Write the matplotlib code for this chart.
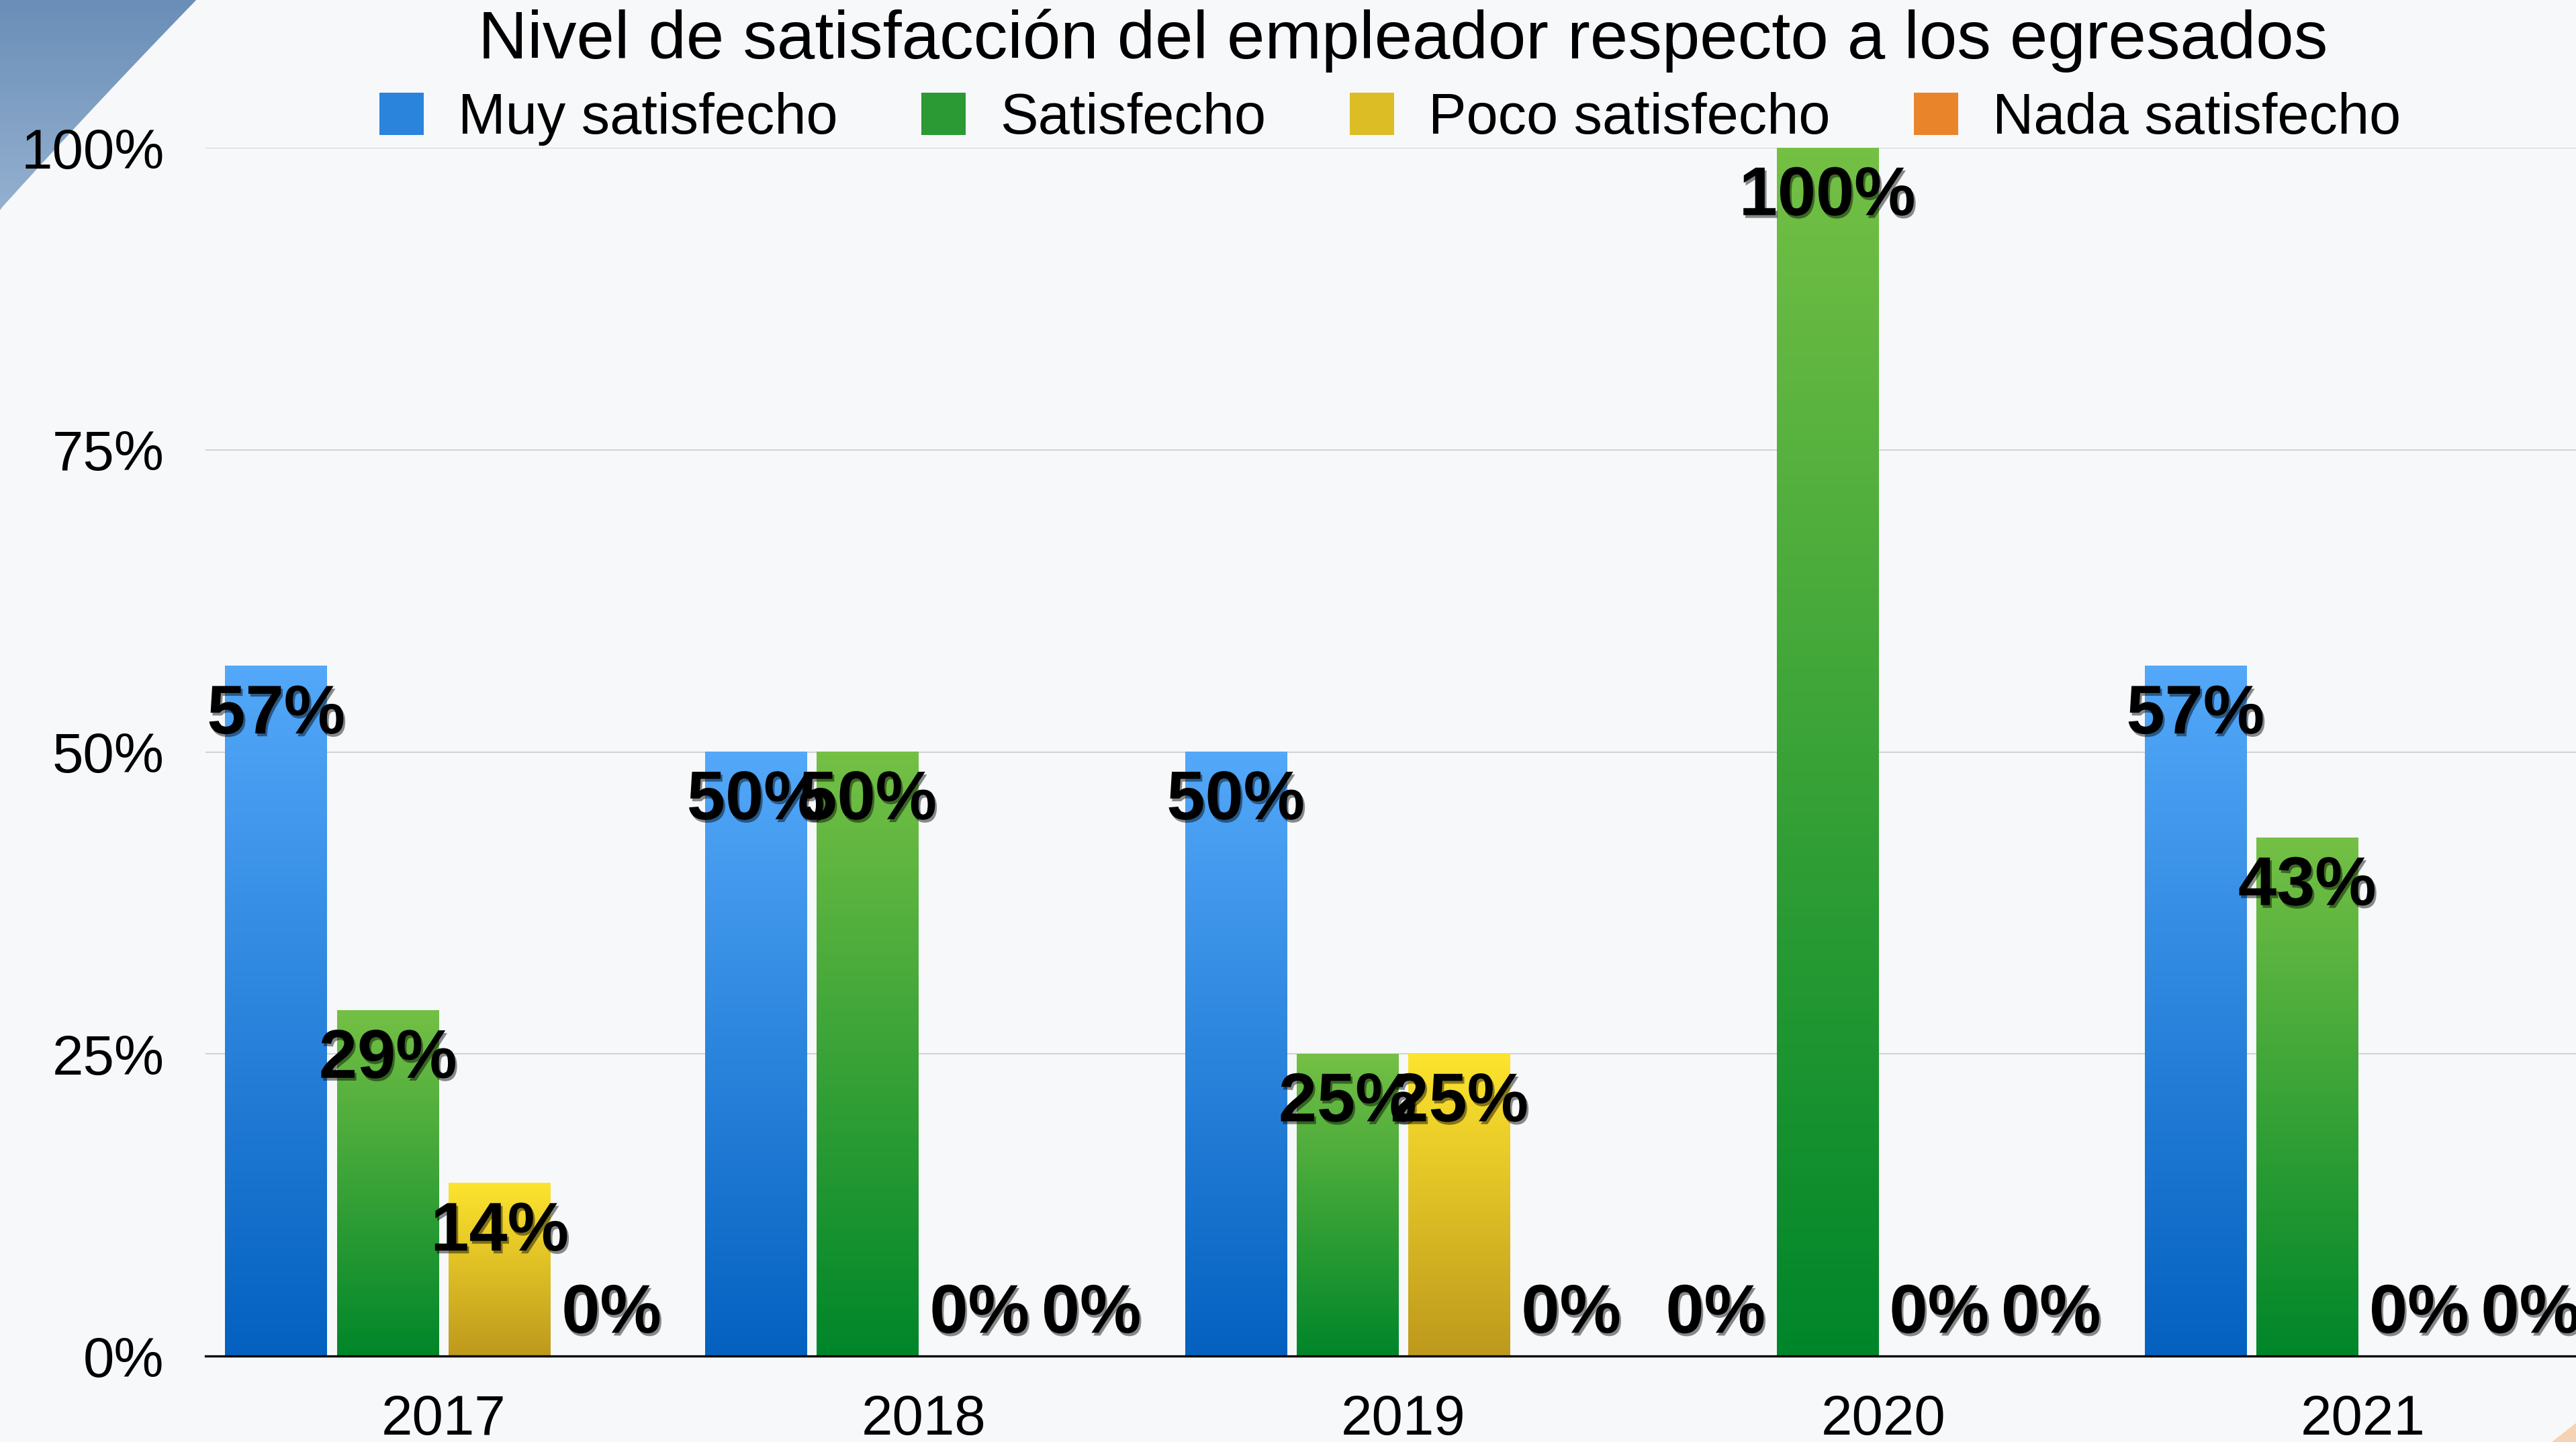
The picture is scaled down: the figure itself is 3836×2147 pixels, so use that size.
import matplotlib
matplotlib.use("Agg")
import matplotlib.pyplot as plt
import matplotlib.patheffects as pe
from matplotlib.colors import LinearSegmentedColormap
from matplotlib.patches import Patch, Polygon
import numpy as np

plt.rcParams['font.family'] = ['Liberation Sans', 'DejaVu Sans']

years = ["2017", "2018", "2019", "2020", "2021"]
series_names = ["Muy satisfecho", "Satisfecho", "Poco satisfecho", "Nada satisfecho"]
muy_satisfecho = [57.1, 50.0, 50.0, 0.0, 57.1]
satisfecho = [28.6, 50.0, 25.0, 100.0, 42.9]
poco_satisfecho = [14.3, 0.0, 25.0, 0.0, 0.0]
nada_satisfecho = [0.0, 0.0, 0.0, 0.0, 0.0]
y_ticks = [0, 25, 50, 75, 100]

# (top colour, bottom colour) for each series gradient
gradients = [("#53a8f9", "#0461c0"),
             ("#74c045", "#00862a"),
             ("#fde42e", "#be991d"),
             ("#f5a03a", "#e0680a")]


def gradient_bar(ax, rect, top, bottom):
    h = rect.get_height()
    if h <= 0:
        return
    x0 = rect.get_x()
    w = rect.get_width()
    cmap = LinearSegmentedColormap.from_list("g", [bottom, top])
    grad = np.linspace(0, 1, 256).reshape(-1, 1)
    ax.imshow(grad, extent=(x0, x0 + w, 0, h), origin="lower", aspect="auto",
              cmap=cmap, zorder=2, interpolation="bilinear")


def draw_background(fig):
    bg = fig.add_axes([0, 0, 1, 1], zorder=-1)
    bg.axis("off")
    # blue swoosh top-left (smooth edge through a few read points)
    ey = np.array([0, 50, 100, 200, 313])
    ex = np.array([290, 247, 197, 100, 0])
    coef = np.polyfit(ey, ex, 2)
    yy = np.linspace(0, 313, 60)
    xx = np.clip(np.polyval(coef, yy), 0, None)
    pts = [(0, 0)] + list(zip(xx, yy))
    poly = Polygon(pts, closed=True, facecolor="none", edgecolor="none")
    bg.add_patch(poly)
    cmap = LinearSegmentedColormap.from_list("s", ["#6a8eb8", "#94b0cf"])
    im = bg.imshow(np.linspace(0, 1, 64).reshape(-1, 1), extent=(0, 300, 313, 0),
                   cmap=cmap, aspect="auto", interpolation="bilinear")
    im.set_clip_path(poly)
    # peach corner bottom-right
    bg.add_patch(Polygon([(3800, 2147), (3837, 2147), (3837, 2118)], closed=True,
                         facecolor="#f4d2b3", edgecolor="none"))
    bg.set_xlim(0, 3837)
    bg.set_ylim(2147, 0)


def main():
    fig = plt.figure(figsize=(38.37, 21.47), dpi=100, facecolor="#f7f8fa")
    draw_background(fig)

    ax = fig.add_axes([0.0797, 0.0596, 0.9203, 0.8379])
    ax.set_facecolor("none")

    values = [muy_satisfecho, satisfecho, poco_satisfecho, nada_satisfecho]
    x = np.arange(len(years))
    pitch = 0.233
    width = 0.212
    for i, vals in enumerate(values):
        offs = (i - 1.5) * pitch
        bars = ax.bar(x + offs, vals, width=width, color="none", linewidth=0, zorder=2)
        for rect in bars:
            gradient_bar(ax, rect, *gradients[i])
        for xi, v in zip(x + offs, vals):
            ax.text(xi, max(v - 4.1, 3.4), "%.0f%%" % v, ha="center", va="center",
                    fontsize=74, fontweight="bold", color="black", zorder=5,
                    path_effects=[pe.withSimplePatchShadow(offset=(2, -3), shadow_rgbFace="k", alpha=0.45)])

    ax.set_xlim(-0.497, 4.445)
    ax.set_ylim(0, 100)
    ax.set_yticks(y_ticks)
    ax.set_yticklabels(["%d%%" % t for t in y_ticks])
    ax.set_xticks(x)
    ax.set_xticklabels(years)
    ax.tick_params(axis="both", length=0, labelsize=60)
    ax.tick_params(axis="y", pad=44)
    ax.tick_params(axis="x", pad=40)
    ax.grid(True, axis="y", color="#cbcbcb", linewidth=1.2, zorder=0)
    ax.set_axisbelow(True)
    for s in ["left", "right", "top"]:
        ax.spines[s].set_visible(False)
    ax.spines["bottom"].set_linewidth(2.4)
    ax.spines["bottom"].set_color("black")
    ax.spines["bottom"].set_zorder(4)

    fig.text(0.5445, 1 - 61 / 2147, "Nivel de satisfacción del empleador respecto a los egresados",
             ha="center", va="center", fontsize=73)

    mids = ["#2a84dc", "#2b9a35", "#dcbd25", "#ea842a"]
    handles = [Patch(facecolor=c, edgecolor="none") for c in mids]
    fig.legend(handles, series_names, loc="center", bbox_to_anchor=(0.5395, 1 - 177 / 2147),
               ncol=4, frameon=False, fontsize=61, handlelength=0.78, handleheight=0.78,
               handletextpad=0.6, columnspacing=1.47, borderpad=0, borderaxespad=0)

    fig.savefig("out.png", dpi=100, facecolor=fig.get_facecolor())


if __name__ == "__main__":
    main()
